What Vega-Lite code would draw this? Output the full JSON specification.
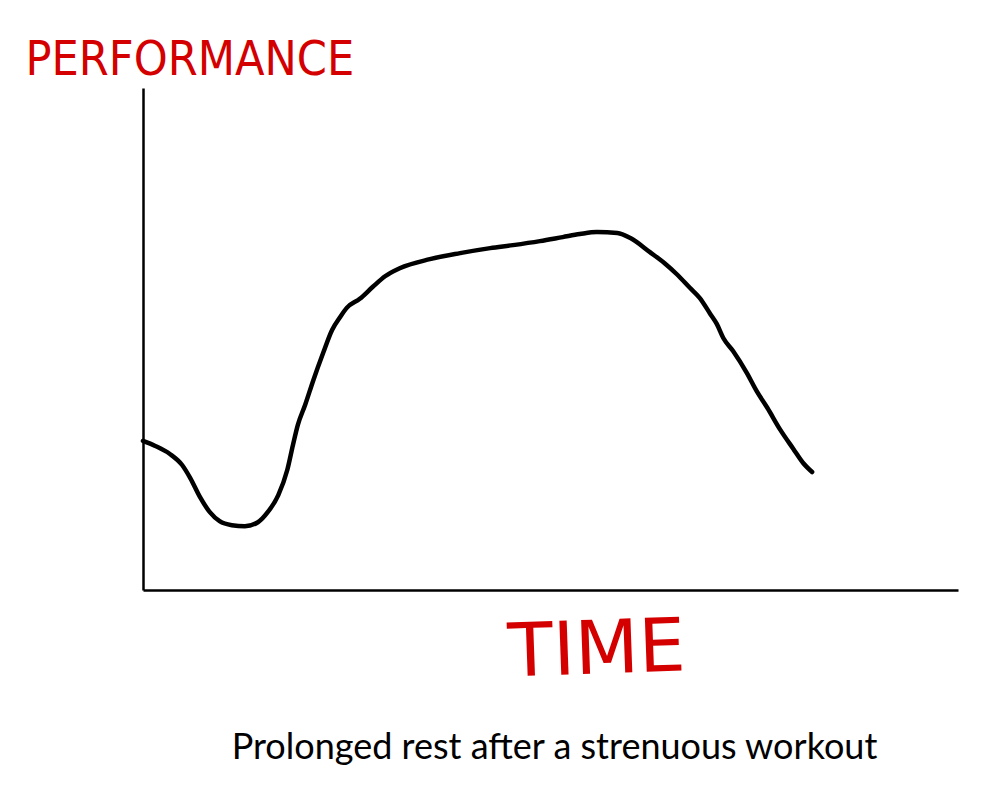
{
  "$schema": "https://vega.github.io/schema/vega-lite/v6.json",
  "width": 815,
  "height": 502,
  "autosize": {"type": "none"},
  "padding": {"left": 143, "top": 88, "right": 42, "bottom": 202},
  "background": "white",
  "config": {"view": {"stroke": null}},
  "title": {
    "text": "Prolonged rest after a strenuous workout",
    "orient": "bottom",
    "anchor": "middle",
    "font": "Lato",
    "fontSize": 36,
    "fontWeight": "normal",
    "color": "#000000",
    "dx": 4,
    "offset": 40
  },
  "data": {
    "values": [
      {"t": 0, "p": 29.7}, {"t": 1.5, "p": 28.7}, {"t": 3.3, "p": 27.1}, {"t": 4.8, "p": 24.9},
      {"t": 5.8, "p": 22.3}, {"t": 7.0, "p": 18.5}, {"t": 8.2, "p": 15.5}, {"t": 9.4, "p": 13.7},
      {"t": 10.9, "p": 12.9}, {"t": 12.5, "p": 12.7}, {"t": 14.1, "p": 13.5}, {"t": 15.3, "p": 15.5},
      {"t": 16.6, "p": 18.9}, {"t": 17.7, "p": 23.9}, {"t": 18.4, "p": 28.9}, {"t": 19.0, "p": 32.9},
      {"t": 19.9, "p": 36.9}, {"t": 20.9, "p": 41.8}, {"t": 22.1, "p": 47.2}, {"t": 23.2, "p": 51.8},
      {"t": 24.2, "p": 54.4}, {"t": 25.0, "p": 56.2}, {"t": 26.6, "p": 58.0}, {"t": 28.2, "p": 60.4},
      {"t": 29.7, "p": 62.5}, {"t": 31.5, "p": 64.1}, {"t": 35.2, "p": 65.9}, {"t": 38.9, "p": 67.1},
      {"t": 42.6, "p": 68.1}, {"t": 45.4, "p": 68.7}, {"t": 48.7, "p": 69.5}, {"t": 51.5, "p": 70.3},
      {"t": 53.6, "p": 70.9}, {"t": 55.7, "p": 71.3}, {"t": 58.2, "p": 71.1}, {"t": 59.8, "p": 70.1},
      {"t": 62.2, "p": 67.3}, {"t": 64.0, "p": 65.1}, {"t": 65.5, "p": 62.9}, {"t": 67.1, "p": 60.2},
      {"t": 68.3, "p": 58.2}, {"t": 69.6, "p": 55.0}, {"t": 70.4, "p": 53.0}, {"t": 71.2, "p": 50.2},
      {"t": 72.4, "p": 47.6}, {"t": 74.1, "p": 43.2}, {"t": 75.3, "p": 39.6}, {"t": 76.6, "p": 36.3},
      {"t": 78.2, "p": 31.9}, {"t": 79.8, "p": 28.1}, {"t": 81.0, "p": 25.3}, {"t": 82.1, "p": 23.5}
    ]
  },
  "mark": {"type": "line", "color": "#000000", "strokeWidth": 4.5, "strokeCap": "round", "strokeJoin": "round", "interpolate": "monotone"},
  "encoding": {
    "x": {
      "field": "t",
      "type": "quantitative",
      "scale": {"domain": [0, 100], "nice": false, "zero": false},
      "axis": {
        "title": "TIME",
        "titleColor": "#d40000",
        "titleFont": "DejaVu Sans",
        "titleFontSize": 74,
        "titleFontWeight": "normal",
        "titleAngle": -2,
        "titleX": 454,
        "titleY": 83,
        "titleAlign": "center",
        "titleBaseline": "alphabetic",
        "labels": false,
        "ticks": false,
        "grid": false,
        "domainColor": "#000000",
        "domainWidth": 2.5
      }
    },
    "y": {
      "field": "p",
      "type": "quantitative",
      "scale": {"domain": [0, 100], "nice": false, "zero": false},
      "axis": {
        "title": "PERFORMANCE",
        "titleColor": "#d40000",
        "titleFont": "DejaVu Sans Condensed",
        "titleFontSize": 48,
        "titleFontWeight": "normal",
        "titleAngle": 0,
        "titleX": -118,
        "titleY": -14,
        "titleAlign": "left",
        "titleBaseline": "alphabetic",
        "labels": false,
        "ticks": false,
        "grid": false,
        "domainColor": "#000000",
        "domainWidth": 2.5
      }
    }
  }
}
